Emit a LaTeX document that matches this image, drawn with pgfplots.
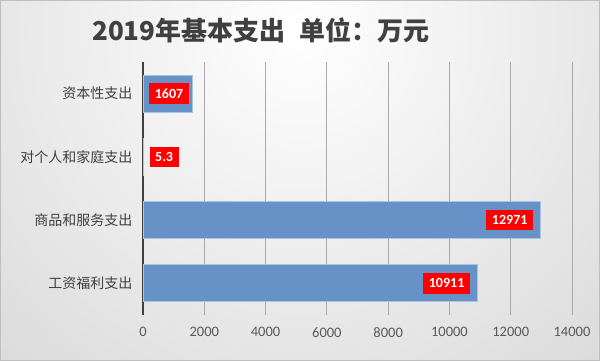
\documentclass[border=0pt]{standalone}
\usepackage{pgfplots}
\pgfplotsset{compat=1.18}
\usepackage{fontspec}
\setmainfont{Carlito}
\newfontfamily\cjk{Noto Sans CJK SC}
\definecolor{barblue}{RGB}{102,146,200}
\definecolor{baredge}{RGB}{170,195,225}
\definecolor{txt}{RGB}{64,64,64}
\definecolor{ticktxt}{RGB}{89,89,89}
\definecolor{gridc}{RGB}{170,170,170}
\definecolor{bgout}{RGB}{185,185,185}
\begin{document}
\begin{tikzpicture}
\begin{scope}
\clip (0,0) rectangle (600bp,361bp);
\shade[inner color=white, outer color=bgout] (300bp,330bp) circle (880bp);
\end{scope}
\draw[gray!50, line width=1bp] (0.5bp,0.5bp) rectangle (599.5bp,360.5bp);
\node[font=\cjk\bfseries\fontsize{26bp}{30bp}\selectfont, text=txt] at (261bp,331bp) {2019年基本支出\hspace{0.55em}单位：万元};
\begin{axis}[
  at={(143bp,46bp)}, anchor=south west, scale only axis,
  width=429bp, height=253bp,
  xbar, bar width=37bp, bar shift=0pt,
  xmin=0, xmax=14000, ymin=-0.5, ymax=3.5,
  ytick={0,1,2,3},
  yticklabels={工资福利支出,商品和服务支出,对个人和家庭支出,资本性支出},
  yticklabel style={font=\cjk\fontsize{14bp}{16bp}\selectfont, text=txt, xshift=-7bp},
  xtick={0,2000,...,14000},
  scaled x ticks=false,
  /pgf/number format/assume math mode=true,
  xticklabel style={/pgf/number format/1000 sep={}, font=\fontsize{14.5bp}{16bp}\selectfont, text=ticktxt, yshift=-9bp},
  xmajorgrids, grid style={gridc, line width=0.75bp},
  major tick length=0pt,
  separate axis lines,
  axis x line*=bottom, axis y line*=left,
  x axis line style={draw=none},
  y axis line style={draw=txt, line width=1.5bp, -},
  point meta=explicit symbolic,
  nodes near coords,
  nodes near coords style={fill=red, text=white, font=\bfseries\fontsize{14bp}{16bp}\selectfont, inner xsep=5.5bp, inner ysep=5.5bp, anchor=east},
]
\addplot[fill=barblue, draw=baredge, line width=1bp, nodes near coords style={xshift=-7bp}] coordinates {(12971,1) [12971] (10911,0) [10911]};
\addplot[fill=barblue, draw=baredge, line width=1bp, nodes near coords style={xshift=-3bp}] coordinates {(1607,3) [1607]};
\addplot[fill=barblue, draw=baredge, line width=1bp, nodes near coords style={anchor=west, xshift=6bp}] coordinates {(5.3,2) [5.3]};
\end{axis}
\end{tikzpicture}
\end{document}
